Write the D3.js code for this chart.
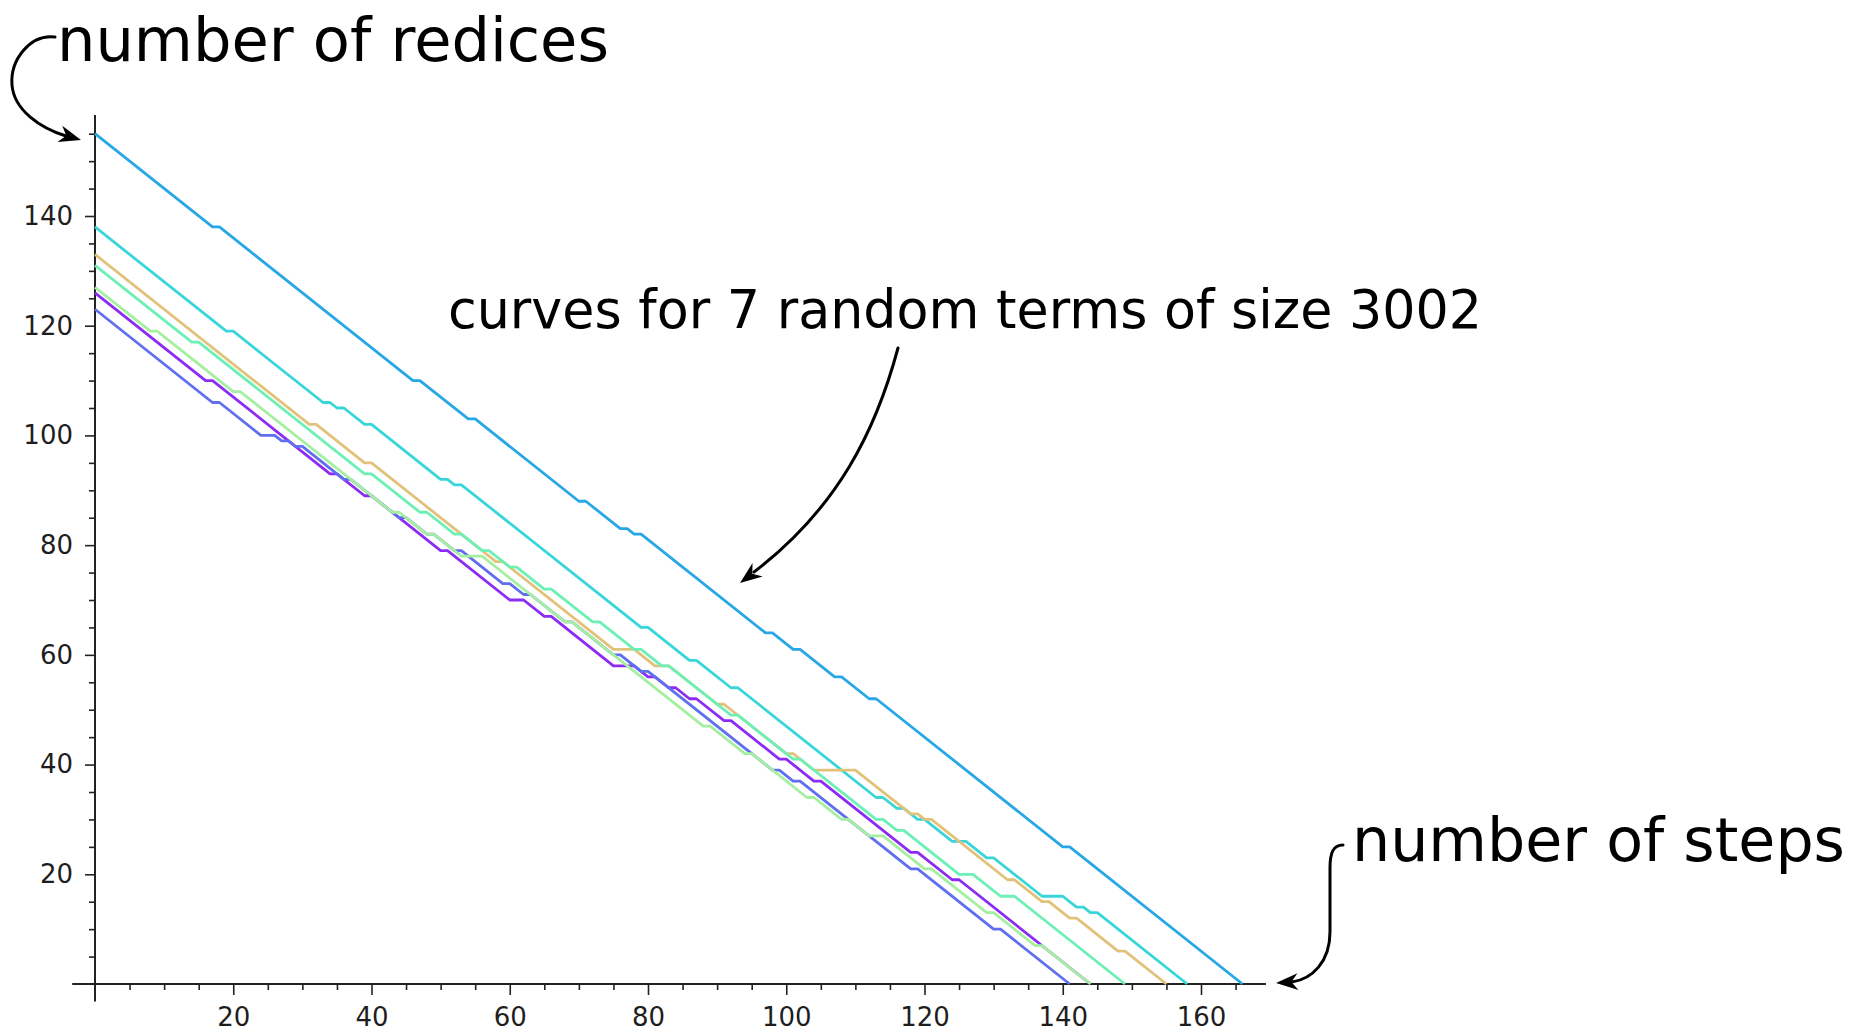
<!DOCTYPE html>
<html><head><meta charset="utf-8">
<script src="https://cdn.jsdelivr.net/npm/d3@7"></script>
<style>
html,body{margin:0;padding:0;background:#fff;}
svg{display:block;}
</style></head><body>
<svg id="chart" width="1864" height="1032"></svg>
<script>
// ---- data: [step, number of redices] vertices ----
const curveSky = [[0,155],[17,138],[18,138],[46,110],[47,110],[54,103],[55,103],[70,88],[71,88],[76,83],[77,83],[78,82],[79,82],[97,64],[98,64],[101,61],[102,61],[107,56],[108,56],[112,52],[113,52],[140,25],[141,25],[166,0]];
const curveCyan = [[0,138],[19,119],[20,119],[33,106],[34,106],[35,105],[36,105],[39,102],[40,102],[50,92],[51,92],[52,91],[53,91],[79,65],[80,65],[86,59],[87,59],[92,54],[93,54],[113,34],[114,34],[116,32],[117,32],[119,30],[120,30],[124,26],[126,26],[129,23],[130,23],[137,16],[140,16],[142,14],[143,14],[144,13],[145,13],[158,0]];
const curveOrange = [[0,133],[31,102],[32,102],[39,95],[40,95],[58,77],[59,77],[75,61],[78,61],[81,58],[83,58],[90,51],[91,51],[100,42],[101,42],[104,39],[110,39],[118,31],[119,31],[120,30],[121,30],[132,19],[133,19],[137,15],[138,15],[141,12],[142,12],[148,6],[149,6],[155,0]];
const curveMint = [[0,131],[14,117],[15,117],[39,93],[40,93],[47,86],[48,86],[52,82],[53,82],[56,79],[57,79],[60,76],[61,76],[65,72],[66,72],[72,66],[73,66],[78,61],[79,61],[82,58],[83,58],[92,49],[93,49],[101,41],[102,41],[113,30],[114,30],[116,28],[117,28],[125,20],[127,20],[131,16],[133,16],[149,0]];
const curvePurple = [[0,126],[16,110],[17,110],[34,93],[35,93],[39,89],[40,89],[50,79],[51,79],[60,70],[62,70],[65,67],[66,67],[75,58],[78,58],[80,56],[81,56],[83,54],[84,54],[86,52],[87,52],[91,48],[92,48],[99,41],[100,41],[104,37],[105,37],[118,24],[119,24],[124,19],[125,19],[144,0]];
const curveBlue = [[0,123],[17,106],[18,106],[24,100],[26,100],[27,99],[28,99],[29,98],[30,98],[36,92],[37,92],[44,85],[45,85],[48,82],[49,82],[52,79],[53,79],[59,73],[60,73],[62,71],[63,71],[68,66],[69,66],[75,60],[76,60],[79,57],[80,57],[98,39],[99,39],[101,37],[102,37],[118,21],[119,21],[130,10],[131,10],[141,0]];
const curveLightGreen = [[0,127],[8,119],[9,119],[20,108],[21,108],[43,86],[44,86],[48,82],[49,82],[53,78],[56,78],[67,67],[68,66],[69,66],[75,60],[88,47],[89,47],[94,42],[95,42],[103,34],[104,34],[108,30],[109,30],[112,27],[114,27],[120,21],[121,21],[129,13],[130,13],[136,7],[137,7],[144,0]];

const seriesList = [curveSky, curveCyan, curveOrange, curveMint, curvePurple, curveBlue, curveLightGreen];
const seriesColors = ["#27a7e6", "#38d6d9", "#e2c27a", "#6cf0b5", "#8c2bf4", "#5f6ff0", "#a5efa0"];

const xMajorTicks = [20, 40, 60, 80, 100, 120, 140, 160];
const yMajorTicks = [20, 40, 60, 80, 100, 120, 140];
const xMinorTicks = [5, 10, 15, 25, 30, 35, 45, 50, 55, 65, 70, 75, 85, 90, 95, 105, 110, 115, 125, 130, 135, 145, 150, 155, 165];
const yMinorTicks = [5, 10, 15, 25, 30, 35, 45, 50, 55, 65, 70, 75, 85, 90, 95, 105, 110, 115, 125, 130, 135, 145, 150, 155];

const labelYAxis = "number of redices";
const labelXAxis = "number of steps";
const labelCurves = "curves for 7 random terms of size 3002";

// ---- drawing ----
const svg = d3.select("#chart");
const x = d3.scaleLinear().domain([0, 160]).range([95, 1201]);
const y = d3.scaleLinear().domain([0, 140]).range([984, 216]);

const axisColor = "#222";
const tickFont = "DejaVu Sans, Verdana, sans-serif";

// axis lines
svg.append("line").attr("x1", x(-3.3)).attr("x2", x(169.4)).attr("y1", y(0)).attr("y2", y(0))
  .attr("stroke", axisColor).attr("stroke-width", 2);
svg.append("line").attr("x1", x(0)).attr("x2", x(0)).attr("y1", y(-3.2)).attr("y2", y(158.4))
  .attr("stroke", axisColor).attr("stroke-width", 2);

// x axis ticks
const gx = svg.append("g").attr("transform", `translate(0,${y(0)})`);
gx.call(d3.axisBottom(x).tickValues(xMajorTicks).tickSize(11).tickPadding(13).tickFormat(d3.format("d")));
const gxm = svg.append("g").attr("transform", `translate(0,${y(0)})`);
gxm.call(d3.axisBottom(x).tickValues(xMinorTicks).tickSize(6).tickFormat(""));
// y axis ticks
const gy = svg.append("g").attr("transform", `translate(${x(0)},0)`);
gy.call(d3.axisLeft(y).tickValues(yMajorTicks).tickSize(10).tickPadding(12).tickFormat(d3.format("d")));
const gym = svg.append("g").attr("transform", `translate(${x(0)},0)`);
gym.call(d3.axisLeft(y).tickValues(yMinorTicks).tickSize(6).tickFormat(""));

svg.selectAll(".domain").remove();
svg.selectAll(".tick line").attr("stroke", axisColor).attr("stroke-width", 1.6);
svg.selectAll(".tick text").attr("fill", "#1e1e1e").style("font-family", tickFont).style("font-size", "26px");

// curves
const line = d3.line().x(d => x(d[0])).y(d => y(d[1]));
svg.append("g").selectAll("path").data(seriesList).join("path")
  .attr("d", d => line(d))
  .attr("fill", "none")
  .attr("stroke", (d, i) => seriesColors[i])
  .attr("stroke-width", 2.8)
  .attr("stroke-linejoin", "round");

// annotations
const annFont = "DejaVu Sans, sans-serif";
svg.append("text").attr("x", 57).attr("y", 61).text(labelYAxis)
  .style("font-family", annFont).style("font-size", "60px").attr("fill", "#000")
  .attr("textLength", 552).attr("lengthAdjust", "spacingAndGlyphs");
svg.append("text").attr("x", 1352).attr("y", 861).text(labelXAxis)
  .style("font-family", annFont).style("font-size", "60px").attr("fill", "#000")
  .attr("textLength", 493).attr("lengthAdjust", "spacingAndGlyphs");
svg.append("text").attr("x", 448).attr("y", 328).text(labelCurves)
  .style("font-family", annFont).style("font-size", "54px").attr("fill", "#000")
  .attr("textLength", 1034).attr("lengthAdjust", "spacingAndGlyphs");

function arrow(pathD, tip, from) {
  svg.append("path").attr("d", pathD).attr("fill", "none").attr("stroke", "#000")
    .attr("stroke-width", 3).attr("stroke-linecap", "round");
  const dx = tip[0] - from[0], dy = tip[1] - from[1];
  const L = Math.hypot(dx, dy), ux = dx / L, uy = dy / L;
  const len = 22, hw = 8.5;
  const bx = tip[0] - ux * len, by = tip[1] - uy * len;
  const mx = tip[0] - ux * len * 0.7, my = tip[1] - uy * len * 0.7;
  svg.append("path")
    .attr("d", `M${tip[0]},${tip[1]} L${bx - uy * hw},${by + ux * hw} L${mx},${my} L${bx + uy * hw},${by - ux * hw} Z`)
    .attr("fill", "#000");
}
arrow("M55,37 C30,34 10,60 12,85 C14,110 40,128 66,136", [81, 140], [64, 135]);
arrow("M1343,845 C1333,845 1330,853 1330,868 L1330,932 C1330,962 1312,979 1292,982", [1276, 983], [1292, 982]);
arrow("M898,348 C876,430 838,508 754,572", [740, 583], [756, 571]);
</script>
</body></html>
